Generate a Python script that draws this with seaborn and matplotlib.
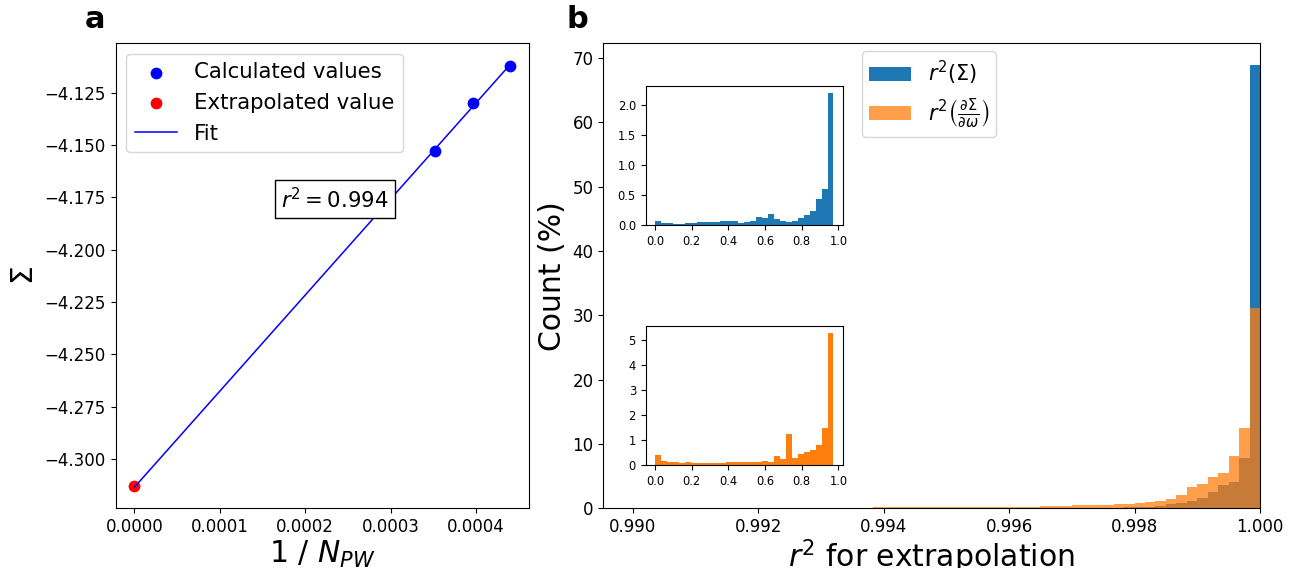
import numpy as np
import pandas as pd
import matplotlib
matplotlib.use("Agg")
import matplotlib.pyplot as plt
from matplotlib.ticker import FormatStrFormatter, FixedLocator
import seaborn as sns

# ---------------- data: panel a ----------------
calc_x = [0.000352, 0.000396, 0.000440]
calc_y = [-4.1528, -4.1299, -4.1124]
extrap_x = [0.0]
extrap_y = [-4.3130]
r2_label = r"$r^2 = 0.994$"

# ---------------- data: panel b (main, % counts, bins 0.990..1.000) ----------------
main_range = (0.990, 1.000)
main_nbins = 60
sigma_counts = [0.01] * 16 + [0.02] * 15 + [
    0.02, 0.02, 0.02, 0.02, 0.02, 0.03, 0.03, 0.03, 0.04, 0.04, 0.05, 0.05,
    0.06, 0.07, 0.08, 0.10, 0.15, 0.20, 0.26, 0.36, 0.67, 0.88, 1.19, 1.61,
    2.54, 3.63, 4.04, 7.88, 68.9]
deriv_counts = [
    0.09, 0.09, 0.09, 0.09, 0.09, 0.09, 0.10, 0.10, 0.10, 0.10, 0.10, 0.10,
    0.11, 0.11, 0.11, 0.11, 0.11, 0.12, 0.12, 0.12, 0.12, 0.12, 0.12, 0.13,
    0.13, 0.13, 0.13, 0.13, 0.14, 0.14, 0.14,
    0.14, 0.14, 0.15, 0.15, 0.20, 0.20, 0.26, 0.26, 0.31, 0.36, 0.41, 0.47,
    0.55, 0.57, 0.57, 0.62, 0.73, 0.83, 0.98, 1.09, 1.40, 2.02, 3.27, 3.84,
    4.87, 5.55, 8.19, 12.55, 31.2]

# ---------------- data: insets (bins 0..0.973) ----------------
inset_range = (0.0, 0.973)
inset_nbins = 30
inset_sigma = [0.067, 0.033, 0.033, 0.017, 0.017, 0.033, 0.033, 0.05, 0.05, 0.05,
               0.05, 0.067, 0.067, 0.067, 0.033, 0.05, 0.067, 0.14, 0.12, 0.18,
               0.10, 0.067, 0.05, 0.067, 0.12, 0.17, 0.235, 0.435, 0.60, 2.20]
inset_deriv = [0.41, 0.17, 0.12, 0.12, 0.08, 0.12, 0.08, 0.08, 0.08, 0.08,
               0.08, 0.08, 0.12, 0.12, 0.12, 0.12, 0.12, 0.12, 0.17, 0.12,
               0.37, 0.25, 1.25, 0.29, 0.45, 0.53, 0.61, 0.81, 1.49, 5.29]

main_xticks = [0.990, 0.992, 0.994, 0.996, 0.998, 1.000]
a_xticks = [0.0, 0.0001, 0.0002, 0.0003, 0.0004]

C_BLUE = "#1f77b4"
C_ORANGE = "#ff7f0e"
LABEL_FS = 21.5

W, H = 1293, 568
fig = plt.figure(figsize=(W / 100, H / 100), dpi=100)


def rect(l, t, r, b):
    return [l / W, 1 - b / H, (r - l) / W, (b - t) / H]


ax_a = fig.add_axes(rect(115.7, 43.3, 529, 508.3))
ax_b = fig.add_axes(rect(603.3, 43.3, 1260, 508.3))
ins1 = fig.add_axes(rect(645.7, 85.7, 843.3, 225))
ins2 = fig.add_axes(rect(645.7, 325.7, 843.3, 465.3))

# ---------------- panel a ----------------
slope, intercept = np.polyfit(calc_x, calc_y, 1)
fit_x = [0.0, max(calc_x)]
fit_y = [intercept + slope * v for v in fit_x]

sns.scatterplot(x=calc_x, y=calc_y, color="blue", s=72, linewidth=0,
                label="Calculated values", ax=ax_a, zorder=1)
sns.scatterplot(x=extrap_x, y=extrap_y, color="red", s=72, linewidth=0,
                label="Extrapolated value", ax=ax_a, zorder=1)
sns.lineplot(x=fit_x, y=fit_y, color="blue", linewidth=1.1, label="Fit", ax=ax_a,
             zorder=2)
ax_a.text(0.0002346, -4.176, r2_label, fontsize=15.3, ha="center", va="center",
          bbox=dict(boxstyle="square,pad=0.3", facecolor="white", edgecolor="black"))
ax_a.legend(loc="upper left", fontsize=15.3)
ax_a.xaxis.set_major_locator(FixedLocator(a_xticks))
ax_a.xaxis.set_major_formatter(FormatStrFormatter("%.4f"))
ax_a.set_yticks([-4.300, -4.275, -4.250, -4.225, -4.200, -4.175, -4.150, -4.125])
ax_a.tick_params(labelsize=12)
ax_a.set_xlabel(r"1 / $N_{PW}$", fontsize=LABEL_FS, labelpad=2)
ax_a.set_ylabel(r"$\Sigma$", fontsize=LABEL_FS)

# ---------------- panel b ----------------
main_edges = np.linspace(main_range[0], main_range[1], main_nbins + 1)
main_df = pd.DataFrame({
    "r2": 0.5 * (main_edges[:-1] + main_edges[1:]),
    "sigma": sigma_counts,
    "deriv": deriv_counts,
})
sns.histplot(data=main_df, x="r2", weights="sigma", bins=list(main_edges), color=C_BLUE,
             alpha=1.0, linewidth=0, edgecolor="none", ax=ax_b, label=r"$r^2(\Sigma)$")
sns.histplot(data=main_df, x="r2", weights="deriv", bins=list(main_edges), color=C_ORANGE,
             alpha=0.75, linewidth=0, edgecolor="none", ax=ax_b,
             label=r"$r^2\left(\frac{\partial\Sigma}{\partial\omega}\right)$")
ax_b.set_xlim(0.98953, 1.000)
ax_b.set_ylim(0, 72.3)
ax_b.xaxis.set_major_locator(FixedLocator(main_xticks))
ax_b.xaxis.set_major_formatter(FormatStrFormatter("%.3f"))
ax_b.tick_params(labelsize=12)
ax_b.set_xlabel(r"$r^2$ for extrapolation", fontsize=LABEL_FS, labelpad=1)
ax_b.set_ylabel("Count (%)", fontsize=LABEL_FS)
ax_b.legend(loc="upper left", bbox_to_anchor=(0.378, 1.005), fontsize=15,
            labelspacing=0.45, borderpad=0.35)

# ---------------- insets ----------------
inset_edges = np.linspace(inset_range[0], inset_range[1], inset_nbins + 1)
inset_df = pd.DataFrame({
    "r2": 0.5 * (inset_edges[:-1] + inset_edges[1:]),
    "sigma": inset_sigma,
    "deriv": inset_deriv,
})
sns.histplot(data=inset_df, x="r2", weights="sigma", bins=list(inset_edges), color=C_BLUE,
             alpha=1.0, linewidth=0, edgecolor="none", ax=ins1)
sns.histplot(data=inset_df, x="r2", weights="deriv", bins=list(inset_edges), color=C_ORANGE,
             alpha=1.0, linewidth=0, edgecolor="none", ax=ins2)
for ins in (ins1, ins2):
    ins.set_xlabel("")
    ins.set_ylabel("")
    ins.set_xlim(-0.0507, 1.0265)
    ins.set_xticks([0.0, 0.2, 0.4, 0.6, 0.8, 1.0])
    ins.xaxis.set_major_formatter(FormatStrFormatter("%.1f"))
    ins.tick_params(labelsize=8.3)
ins1.set_ylim(0, 2.327)
ins1.set_yticks([0.0, 0.5, 1.0, 1.5, 2.0])
ins1.yaxis.set_major_formatter(FormatStrFormatter("%.1f"))
ins2.set_ylim(0, 5.58)
ins2.set_yticks([0, 1, 2, 3, 4, 5])

# panel letters
fig.text(95 / W, 1 - 20 / H, "a", fontsize=22, fontweight="bold", ha="center", va="center")
fig.text(577 / W, 1 - 20 / H, "b", fontsize=22, fontweight="bold", ha="center", va="center")

fig.savefig("out.png", dpi=100)
